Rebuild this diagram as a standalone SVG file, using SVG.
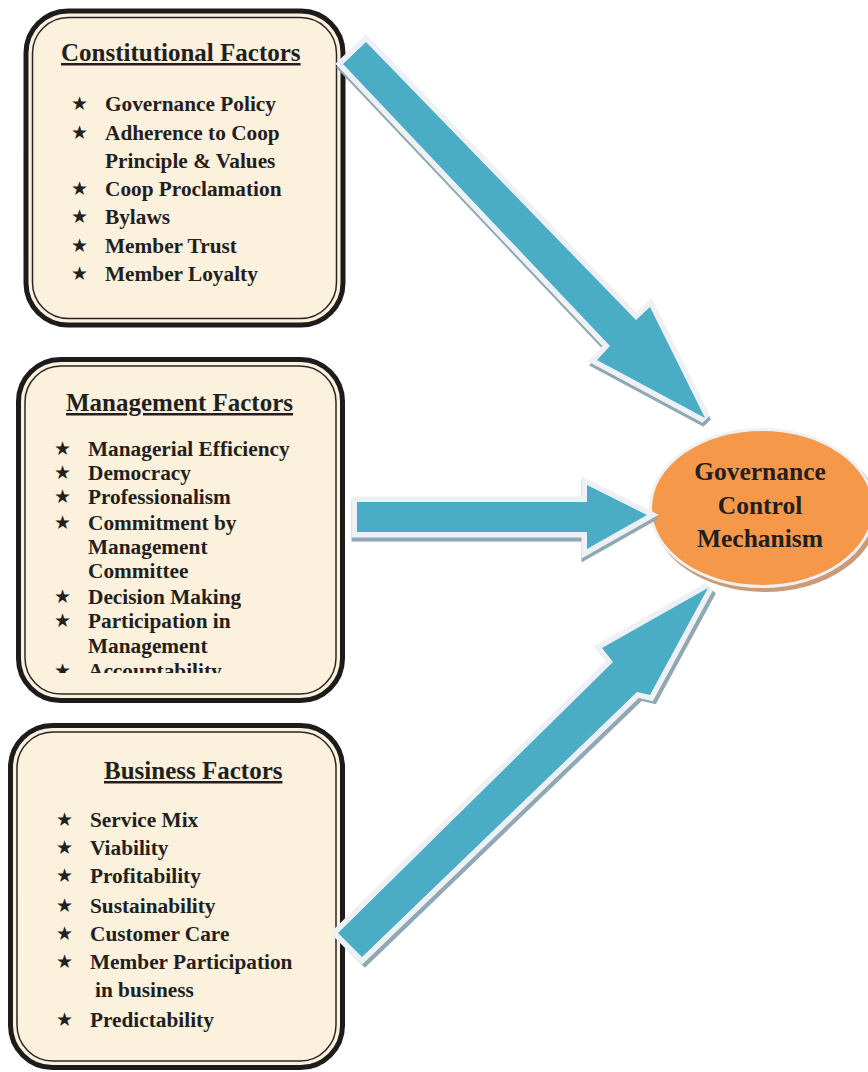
<svg xmlns="http://www.w3.org/2000/svg" width="868" height="1072" viewBox="0 0 868 1072">
<style>
.outer{fill:#fcf1dc;stroke:#1e1b1c;stroke-width:5}
.inner{fill:none;stroke:#2a2526;stroke-width:1.5}
.title{font-family:"Liberation Serif","Times New Roman",serif;font-weight:bold;font-size:25px;fill:#231f20;text-decoration:underline}
.item{font-family:"Liberation Serif","Times New Roman",serif;font-weight:bold;font-size:21.3px;fill:#231f20}
.star{font-family:"DejaVu Sans",sans-serif;font-size:19px;fill:#231f20}
.shadow{fill:#8fa8b3;stroke:#8fa8b3;stroke-width:11;stroke-linejoin:miter;stroke-miterlimit:3}
.halo{fill:#eef1f4;stroke:#eef1f4;stroke-width:11;stroke-linejoin:miter;stroke-miterlimit:3}
.body{fill:#4aacc5}
.etext{font-family:"Liberation Serif","Times New Roman",serif;font-weight:bold;font-size:25.5px;fill:#231f20;text-anchor:middle}
</style>
<defs>
<clipPath id="clip2"><rect x="0" y="360" width="345" height="313"/></clipPath>
<polygon id="a1" points="366,42 636,320 650,307 705,418 597,360 610,346 343,64"/>
<polygon id="a2" points="357,502 587,502 587,485 647,515 587,549 587,532 357,532"/>
<polygon id="a3" points="338,933 613,662 602,648 708,588 650,695 637,692 362,957"/>
</defs>
<rect width="868" height="1072" fill="#ffffff"/>

<g id="constitutional">
<rect class="outer" x="26" y="11" width="317" height="314" rx="42"/>
<rect class="inner" x="32.5" y="17.5" width="304" height="301" rx="36"/>
<text class="title" x="61" y="61">Constitutional Factors</text>
<g class="star"><text x="71" y="110">★</text><text x="71" y="139">★</text><text x="71" y="195">★</text><text x="71" y="223">★</text><text x="71" y="252">★</text><text x="71" y="280">★</text></g>
<g class="item">
<text x="105" y="111">Governance Policy</text>
<text x="105" y="139.5">Adherence to Coop</text>
<text x="105" y="167.5">Principle &amp; Values</text>
<text x="105" y="196">Coop Proclamation</text>
<text x="105" y="224">Bylaws</text>
<text x="105" y="252.5">Member Trust</text>
<text x="105" y="281">Member Loyalty</text>
</g>
</g>

<g id="management">
<rect class="outer" x="18.5" y="359.5" width="324" height="341" rx="42"/>
<rect class="inner" x="25" y="366" width="311" height="328" rx="36"/>
<text class="title" x="66" y="411">Management Factors</text>
<g clip-path="url(#clip2)">
<g class="star"><text x="54" y="455">★</text><text x="54" y="479">★</text><text x="54" y="503">★</text><text x="54" y="529">★</text><text x="54" y="603">★</text><text x="54" y="627">★</text><text x="54" y="677">★</text></g>
<g class="item">
<text x="88" y="456">Managerial Efficiency</text>
<text x="88" y="480">Democracy</text>
<text x="88" y="504">Professionalism</text>
<text x="88" y="530">Commitment by</text>
<text x="88" y="554">Management</text>
<text x="88" y="578">Committee</text>
<text x="88" y="604">Decision Making</text>
<text x="88" y="628">Participation in</text>
<text x="88" y="653">Management</text>
<text x="88" y="678">Accountability</text>
</g>
</g>
</g>

<g id="business">
<rect class="outer" x="10.5" y="725.5" width="332" height="342" rx="42"/>
<rect class="inner" x="17" y="732" width="319" height="329" rx="36"/>
<text class="title" x="104" y="779">Business Factors</text>
<g class="star"><text x="56" y="826">★</text><text x="56" y="854">★</text><text x="56" y="882">★</text><text x="56" y="912">★</text><text x="56" y="940">★</text><text x="56" y="968">★</text><text x="56" y="1026">★</text></g>
<g class="item">
<text x="90" y="827">Service Mix</text>
<text x="90" y="855">Viability</text>
<text x="90" y="883">Profitability</text>
<text x="90" y="913">Sustainability</text>
<text x="90" y="941">Customer Care</text>
<text x="90" y="969">Member Participation</text>
<text x="95" y="997">in business</text>
<text x="90" y="1027">Predictability</text>
</g>
</g>

<g id="governance">
<ellipse cx="765" cy="512" rx="113" ry="80" fill="#c99b79"/>
<ellipse cx="762" cy="508" rx="113" ry="80" fill="#eef1f4"/>
<ellipse cx="762" cy="508" rx="110" ry="77" fill="#f6984a"/>
<text class="etext" x="760" y="480">Governance</text>
<text class="etext" x="760" y="514">Control</text>
<text class="etext" x="760" y="547">Mechanism</text>
</g>

<g id="connectors">
<use href="#a1" class="shadow" transform="translate(1,4)"/>
<use href="#a1" class="halo"/>
<use href="#a1" class="body"/>
<use href="#a2" class="shadow" transform="translate(0,4)"/>
<use href="#a2" class="halo"/>
<use href="#a2" class="body"/>
<use href="#a3" class="shadow" transform="translate(3,3)"/>
<use href="#a3" class="halo"/>
<use href="#a3" class="body"/>
</g>
</svg>
